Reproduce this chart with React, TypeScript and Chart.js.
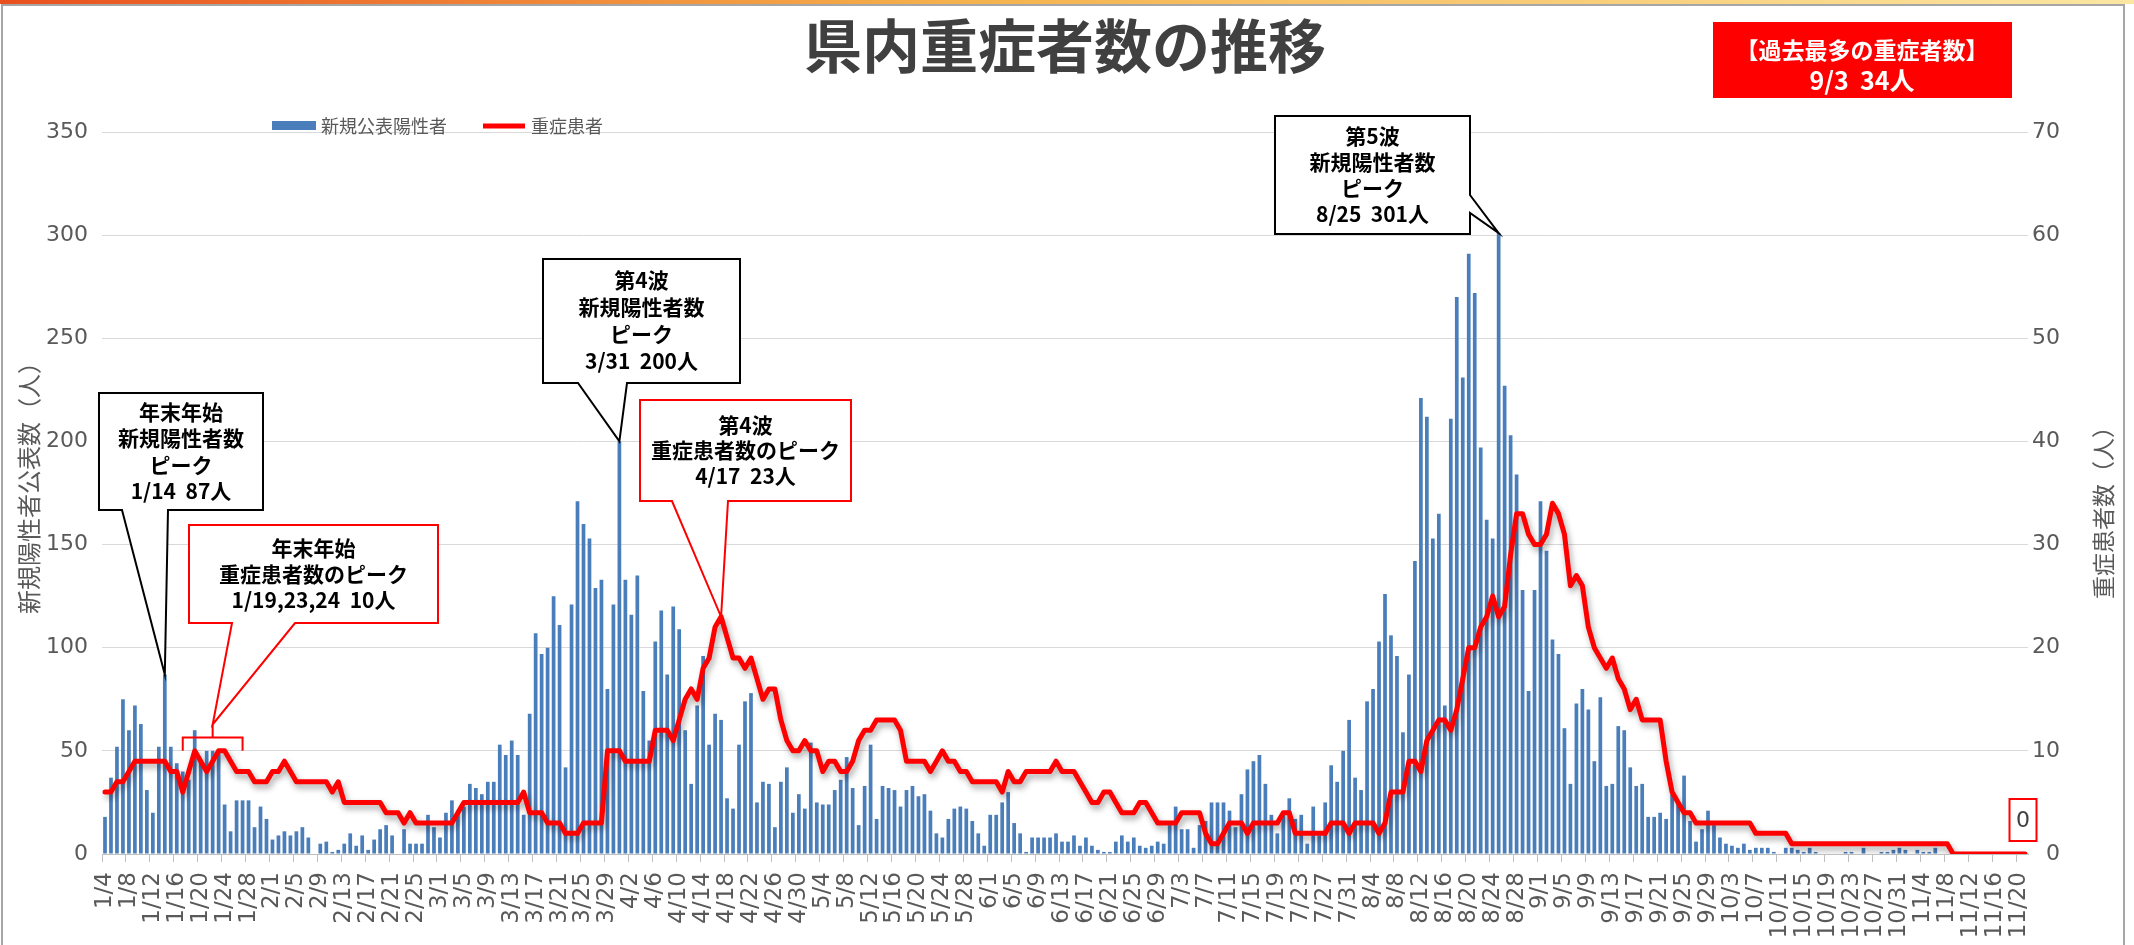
import React, { useEffect, useRef } from 'react';
import { Chart, registerables } from 'chart.js';

Chart.register(...registerables);

// ---- categories (daily, 2021/1/4 .. 11/21) ----
const MONTH_LENGTHS = [31, 28, 31, 30, 31, 30, 31, 31, 30, 31, 30];
const START_MONTH = 1;
const START_DAY = 4;
const DAY_COUNT = 322;
const LABEL_EVERY = 4;

// ---- 新規公表陽性者 (left axis) ----
const posJan = [18, 37, 52, 75, 60, 72, 63, 31, 20, 52, 87, 52, 44, 40, 36, 60, 45, 50, 50, 50, 24, 11, 26, 26, 26, 13, 23, 17];
const posFeb = [7, 9, 11, 9, 11, 13, 8, 0, 5, 6, 1, 2, 5, 10, 4, 9, 2, 7, 12, 14, 9, 0, 12, 5, 5, 5, 19, 13];
const posMar = [8, 20, 26, 21, 23, 34, 32, 29, 35, 35, 53, 48, 55, 48, 19, 68, 107, 97, 100, 125, 111, 42, 121, 171, 160, 153, 129, 133, 80, 121, 200];
const posApr = [133, 116, 135, 79, 55, 103, 118, 87, 120, 109, 60, 34, 72, 96, 53, 68, 65, 27, 22, 53, 74, 78, 25, 35, 34, 13, 35, 42, 20, 29];
const posMay = [22, 54, 25, 24, 24, 31, 36, 47, 32, 14, 33, 53, 17, 33, 32, 31, 23, 31, 33, 28, 29, 21, 10, 8, 17, 22, 23, 22, 16, 10, 4];
const posJun = [19, 19, 25, 30, 15, 10, 1, 8, 8, 8, 8, 10, 6, 6, 9, 4, 8, 4, 2, 1, 1, 6, 9, 6, 8, 4, 3, 4, 6, 5];
const posJul = [14, 23, 12, 12, 3, 14, 16, 25, 25, 25, 21, 13, 29, 41, 45, 48, 34, 19, 10, 19, 27, 17, 19, 5, 23, 9, 25, 43, 35, 50, 65];
const posAug = [37, 31, 74, 80, 103, 126, 106, 96, 59, 87, 142, 221, 212, 153, 165, 72, 211, 270, 231, 291, 272, 197, 162, 153, 301, 227, 203, 184, 128, 79, 128];
const posSep = [171, 147, 104, 97, 61, 34, 73, 80, 70, 45, 76, 33, 34, 62, 60, 42, 33, 34, 18, 18, 20, 17, 29, 25, 38, 16, 6, 12, 21, 14];
const posOct = [8, 5, 4, 3, 5, 2, 3, 3, 3, 1, 0, 3, 3, 2, 1, 3, 1, 0, 0, 0, 0, 1, 1, 0, 3, 0, 0, 1, 1, 2, 3];
const posNov = [2, 0, 2, 1, 1, 3, 0, 0, 0, 0, 0, 0, 0, 0, 0, 0, 0, 0, 0, 0, 0];

// ---- 重症患者 (right axis) ----
const sevJan = [6, 6, 7, 7, 8, 9, 9, 9, 9, 9, 9, 8, 8, 6, 8, 10, 9, 8, 9, 10, 10, 9, 8, 8, 8, 7, 7, 7];
const sevFeb = [8, 8, 9, 8, 7, 7, 7, 7, 7, 7, 6, 7, 5, 5, 5, 5, 5, 5, 5, 4, 4, 4, 3, 4, 3, 3, 3, 3];
const sevMar = [3, 3, 3, 4, 5, 5, 5, 5, 5, 5, 5, 5, 5, 5, 6, 4, 4, 4, 3, 3, 3, 2, 2, 2, 3, 3, 3, 3, 10, 10, 10];
const sevApr = [9, 9, 9, 9, 9, 12, 12, 12, 11, 13, 15, 16, 15, 18, 19, 22, 23, 21, 19, 19, 18, 19, 17, 15, 16, 16, 13, 11, 10, 10];
const sevMay = [11, 10, 10, 8, 9, 9, 8, 8, 9, 11, 12, 12, 13, 13, 13, 13, 12, 9, 9, 9, 9, 8, 9, 10, 9, 9, 8, 8, 7, 7, 7];
const sevJun = [7, 7, 6, 8, 7, 7, 8, 8, 8, 8, 8, 9, 8, 8, 8, 7, 6, 5, 5, 6, 6, 5, 4, 4, 4, 5, 5, 4, 3, 3];
const sevJul = [3, 3, 4, 4, 4, 4, 2, 1, 1, 2, 3, 3, 3, 2, 3, 3, 3, 3, 3, 4, 4, 2, 2, 2, 2, 2, 2, 3, 3, 3, 2];
const sevAug = [3, 3, 3, 3, 2, 3, 6, 6, 6, 9, 9, 8, 11, 12, 13, 13, 12, 14, 17, 20, 20, 22, 23, 25, 23, 24, 29, 33, 33, 31, 30];
const sevSep = [30, 31, 34, 33, 31, 26, 27, 26, 22, 20, 19, 18, 19, 17, 16, 14, 15, 13, 13, 13, 13, 9, 6, 5, 4, 4, 3, 3, 3, 3];
const sevOct = [3, 3, 3, 3, 3, 3, 2, 2, 2, 2, 2, 2, 1, 1, 1, 1, 1, 1, 1, 1, 1, 1, 1, 1, 1, 1, 1, 1, 1, 1, 1];
const sevNov = [1, 1, 1, 1, 1, 1, 1, 1, 0, 0, 0, 0, 0, 0, 0, 0, 0, 0, 0, 0, 0];

const positives = [...posJan, ...posFeb, ...posMar, ...posApr, ...posMay, ...posJun, ...posJul, ...posAug, ...posSep, ...posOct, ...posNov];
const severe = [...sevJan, ...sevFeb, ...sevMar, ...sevApr, ...sevMay, ...sevJun, ...sevJul, ...sevAug, ...sevSep, ...sevOct, ...sevNov];

const LEFT_TICKS = [0, 50, 100, 150, 200, 250, 300, 350];
const RIGHT_TICKS = [0, 10, 20, 30, 40, 50, 60, 70];

const TITLE = '県内重症者数の推移';
const RECORD_LINES = ['【過去最多の重症者数】', '9/3  34人'];
const SERIES_BAR = '新規公表陽性者';
const SERIES_LINE = '重症患者';
const LEFT_TITLE = '新規陽性者公表数（人）';
const RIGHT_TITLE = '重症患者数（人）';

const CALLOUT_1 = ['年末年始', '新規陽性者数', 'ピーク', '1/14  87人'];
const CALLOUT_2 = ['年末年始', '重症患者数のピーク', '1/19,23,24  10人'];
const CALLOUT_3 = ['第4波', '新規陽性者数', 'ピーク', '3/31  200人'];
const CALLOUT_4 = ['第4波', '重症患者数のピーク', '4/17  23人'];
const CALLOUT_5 = ['第5波', '新規陽性者数', 'ピーク', '8/25  301人'];

function buildDates(): string[] {
  const out: string[] = [];
  let m = START_MONTH;
  let d = START_DAY;
  for (let i = 0; i < DAY_COUNT; i++) {
    out.push(`${m}/${d}`);
    d++;
    if (d > MONTH_LENGTHS[m - 1]) {
      d = 1;
      m++;
    }
  }
  return out;
}
const dates = buildDates();

const JP = '"Noto Sans CJK JP", "Noto Sans", sans-serif';
const NUM = '"DejaVu Sans", Verdana, sans-serif';
const GRAY_TXT = '#595959';
const BAR_BLUE = '#4A7EBB';
const RED = '#FF0000';

function drawText(ctx: CanvasRenderingContext2D, s: string, x: number, y: number, font: string, color: string, align: CanvasTextAlign = 'center') {
  ctx.font = font;
  ctx.fillStyle = color;
  ctx.textAlign = align;
  ctx.textBaseline = 'middle';
  ctx.fillText(s, x, y);
}

type Wedge = { edge: 'bottom' | 'right'; b1: number; b2: number; tx: number; ty: number };

function drawCallout(ctx: CanvasRenderingContext2D, x: number, y: number, w: number, h: number, wedge: Wedge, stroke: string, lines: string[], lineH: number, font: string) {
  ctx.beginPath();
  ctx.moveTo(x, y);
  ctx.lineTo(x + w, y);
  if (wedge.edge === 'right') {
    ctx.lineTo(x + w, wedge.b1);
    ctx.lineTo(wedge.tx, wedge.ty);
    ctx.lineTo(x + w, wedge.b2);
    ctx.lineTo(x + w, y + h);
    ctx.lineTo(x, y + h);
  } else {
    ctx.lineTo(x + w, y + h);
    ctx.lineTo(wedge.b2, y + h);
    ctx.lineTo(wedge.tx, wedge.ty);
    ctx.lineTo(wedge.b1, y + h);
    ctx.lineTo(x, y + h);
  }
  ctx.closePath();
  ctx.fillStyle = '#ffffff';
  ctx.fill();
  ctx.lineWidth = 2;
  ctx.lineJoin = 'miter';
  ctx.strokeStyle = stroke;
  ctx.stroke();
  const cx = x + w / 2;
  const cy = y + h / 2;
  const start = cy - ((lines.length - 1) * lineH) / 2;
  lines.forEach((s, k) => drawText(ctx, s, cx, start + k * lineH, font, '#000000'));
}

const lineShadow = {
  id: 'lineShadow',
  beforeDatasetDraw(chart: any, args: any) {
    if (args.index === 0) {
      const ctx = chart.ctx;
      ctx.save();
      ctx.shadowColor = 'rgba(0,0,0,0.35)';
      ctx.shadowBlur = 6;
      ctx.shadowOffsetX = 2;
      ctx.shadowOffsetY = 4;
    }
  },
  afterDatasetDraw(chart: any, args: any) {
    if (args.index === 0) chart.ctx.restore();
  },
};

const background = {
  id: 'bg',
  beforeDraw(chart: any) {
    const ctx = chart.ctx;
    ctx.save();
    ctx.fillStyle = '#ffffff';
    ctx.fillRect(0, 0, chart.width, chart.height);
    ctx.restore();
  },
};

const decor = {
  id: 'decor',
  afterDraw(chart: any) {
    const ctx: CanvasRenderingContext2D = chart.ctx;
    const xs = chart.scales.x;
    const yl = chart.scales.y;
    const yr = chart.scales.y1;
    const X = (i: number) => xs.getPixelForValue(i);
    const W = chart.width;
    ctx.save();

    // top strip + frame
    const g = ctx.createLinearGradient(0, 0, W, 0);
    g.addColorStop(0, '#e9501e');
    g.addColorStop(0.45, '#f5b24c');
    g.addColorStop(1, '#fbe6a2');
    ctx.fillStyle = g;
    ctx.fillRect(0, 0, W, 4);
    ctx.strokeStyle = '#a6a6a6';
    ctx.lineWidth = 2;
    ctx.beginPath();
    ctx.moveTo(2, 5);
    ctx.lineTo(2124, 5);
    ctx.moveTo(2, 4);
    ctx.lineTo(2, chart.height);
    ctx.moveTo(2124, 4);
    ctx.lineTo(2124, chart.height);
    ctx.stroke();

    // title
    drawText(ctx, TITLE, 1065, 46, `bold 58px ${JP}`, '#404040');

    // record box
    ctx.fillStyle = RED;
    ctx.fillRect(1713, 22, 299, 76);
    drawText(ctx, RECORD_LINES[0], 1862, 50, `bold 23px ${JP}`, '#ffffff');
    drawText(ctx, RECORD_LINES[1], 1862, 80, `bold 25px ${JP}`, '#ffffff');

    // legend
    ctx.fillStyle = BAR_BLUE;
    ctx.fillRect(272, 121, 44, 9);
    drawText(ctx, SERIES_BAR, 321, 126, `18px ${JP}`, GRAY_TXT, 'left');
    ctx.strokeStyle = RED;
    ctx.lineWidth = 5;
    ctx.beginPath();
    ctx.moveTo(483, 126);
    ctx.lineTo(525, 126);
    ctx.stroke();
    drawText(ctx, SERIES_LINE, 531, 126, `18px ${JP}`, GRAY_TXT, 'left');

    // axis titles
    ctx.save();
    ctx.translate(29, 482);
    ctx.rotate(-Math.PI / 2);
    drawText(ctx, LEFT_TITLE, 0, 0, `24px ${JP}`, GRAY_TXT);
    ctx.restore();
    ctx.save();
    ctx.translate(2103, 507);
    ctx.rotate(-Math.PI / 2);
    drawText(ctx, RIGHT_TITLE, 0, 0, `23px ${JP}`, GRAY_TXT);
    ctx.restore();

    const cFont = `bold 21px ${JP}`;
    // callout 1: 1/14 peak
    drawCallout(ctx, 99, 393, 164, 117, { edge: 'bottom', b1: 122, b2: 168, tx: X(10), ty: yl.getPixelForValue(positives[10]) }, '#000000', CALLOUT_1, 26.3, cFont);

    // bracket over the severe peak days in late January
    const bl = X(13);
    const br = X(23);
    const bc = X(18);
    const bTop = yl.getPixelForValue(56.5);
    const bBot = yr.getPixelForValue(10);
    ctx.strokeStyle = RED;
    ctx.lineWidth = 2;
    ctx.beginPath();
    ctx.moveTo(bl, bBot);
    ctx.lineTo(bl, bTop);
    ctx.lineTo(br, bTop);
    ctx.lineTo(br, bBot);
    ctx.moveTo(bc, bTop);
    ctx.lineTo(bc, bTop - 13);
    ctx.stroke();
    // callout 2
    drawCallout(ctx, 189, 525, 249, 98, { edge: 'bottom', b1: 232, b2: 295, tx: bc, ty: bTop - 13 }, RED, CALLOUT_2, 26, cFont);

    // callout 3: 3/31 peak
    drawCallout(ctx, 543, 259, 197, 124, { edge: 'bottom', b1: 578, b2: 627, tx: X(86), ty: yl.getPixelForValue(positives[86]) }, '#000000', CALLOUT_3, 27, cFont);

    // callout 4: 4/17 severe peak
    drawCallout(ctx, 640, 400, 211, 101, { edge: 'bottom', b1: 672, b2: 728, tx: X(103), ty: yr.getPixelForValue(severe[103]) }, RED, CALLOUT_4, 25.5, cFont);

    // callout 5: 8/25 peak
    drawCallout(ctx, 1275, 116, 195, 118, { edge: 'right', b1: 195, b2: 213, tx: X(233), ty: yl.getPixelForValue(positives[233]) }, '#000000', CALLOUT_5, 26, cFont);

    // last value label
    const li = DAY_COUNT - 1;
    const lx = X(li) - 2;
    const ly = yr.getPixelForValue(severe[li]) - 34;
    ctx.fillStyle = '#ffffff';
    ctx.fillRect(lx - 13.5, ly - 21, 27, 42);
    ctx.strokeStyle = RED;
    ctx.lineWidth = 2;
    ctx.strokeRect(lx - 13.5, ly - 21, 27, 42);
    drawText(ctx, String(severe[li]), lx, ly + 1, `22px ${NUM}`, '#404040');

    ctx.restore();
  },
};

export default function App() {
  const ref = useRef<HTMLCanvasElement | null>(null);

  useEffect(() => {
    document.body.style.margin = '0';
    const canvas = ref.current;
    if (!canvas) return;
    const chart = new Chart(canvas, {
      type: 'bar',
      data: {
        labels: dates,
        datasets: [
          {
            type: 'line',
            label: SERIES_LINE,
            data: severe,
            yAxisID: 'y1',
            borderColor: RED,
            backgroundColor: RED,
            borderWidth: 5,
            pointRadius: 0,
            tension: 0,
            borderJoinStyle: 'round',
            borderCapStyle: 'round',
            order: 0,
          } as any,
          {
            type: 'bar',
            label: SERIES_BAR,
            data: positives,
            yAxisID: 'y',
            backgroundColor: BAR_BLUE,
            barPercentage: 0.62,
            categoryPercentage: 1,
            order: 1,
          } as any,
        ],
      },
      options: {
        animation: false,
        responsive: false,
        devicePixelRatio: 1,
        layout: { padding: { top: 132, left: 0, right: 74, bottom: 0 } },
        plugins: {
          legend: { display: false },
          tooltip: { enabled: false },
          title: { display: false },
        },
        scales: {
          x: {
            grid: {
              display: true,
              drawOnChartArea: false,
              drawTicks: true,
              tickLength: 8,
              offset: true,
              tickColor: (c: any) => (c.index % LABEL_EVERY === 0 ? '#bfbfbf' : 'rgba(0,0,0,0)'),
            },
            border: { display: true, color: '#bfbfbf', width: 1 },
            ticks: {
              autoSkip: false,
              maxRotation: 90,
              minRotation: 90,
              padding: 10,
              color: GRAY_TXT,
              font: { family: NUM, size: 23 },
              callback: (_v: any, i: number) => (i % LABEL_EVERY === 0 ? dates[i] : ''),
            },
            afterFit: (s: any) => {
              s.height = 91;
            },
          },
          y: {
            position: 'left',
            min: LEFT_TICKS[0],
            max: LEFT_TICKS[LEFT_TICKS.length - 1],
            afterBuildTicks: (s: any) => {
              s.ticks = LEFT_TICKS.map((v) => ({ value: v }));
            },
            grid: { color: '#d9d9d9', lineWidth: 1, drawTicks: false },
            border: { display: false },
            ticks: { padding: 14, color: GRAY_TXT, font: { family: NUM, size: 22 } },
            afterFit: (s: any) => {
              s.width = 102;
            },
          },
          y1: {
            position: 'right',
            min: RIGHT_TICKS[0],
            max: RIGHT_TICKS[RIGHT_TICKS.length - 1],
            afterBuildTicks: (s: any) => {
              s.ticks = RIGHT_TICKS.map((v) => ({ value: v }));
            },
            grid: { drawOnChartArea: false, drawTicks: false },
            border: { display: false },
            ticks: { padding: 4, crossAlign: 'far', color: GRAY_TXT, font: { family: NUM, size: 22 } },
            afterFit: (s: any) => {
              s.width = 32;
            },
          },
        },
      } as any,
      plugins: [background, lineShadow, decor],
    });
    return () => chart.destroy();
  }, []);

  return (
    <div style={{ width: 2134, height: 945 }}>
      <canvas ref={ref} width={2134} height={945} style={{ display: 'block', width: 2134, height: 945 }} />
    </div>
  );
}
